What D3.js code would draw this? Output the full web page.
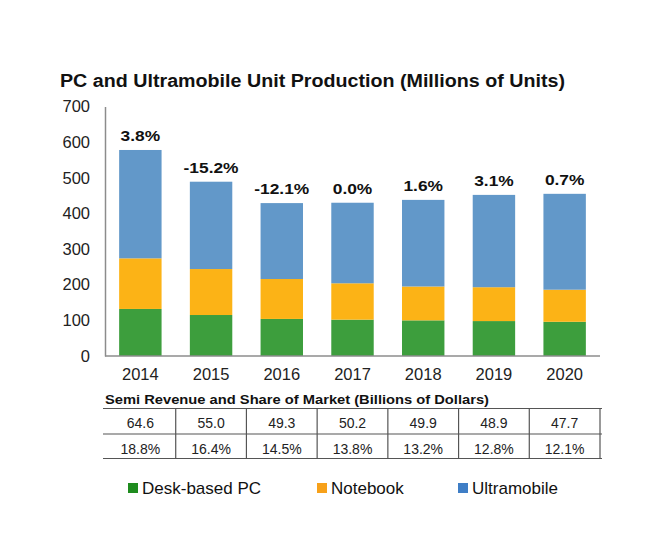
<!DOCTYPE html>
<html><head><meta charset="utf-8">
<script src="https://cdn.jsdelivr.net/npm/d3@7"></script>
<style>body{margin:0;background:#fff;} svg{display:block;font-family:"Liberation Sans",Arial,sans-serif;}</style>
</head><body>
<svg id="c" width="660" height="550"></svg>
<script>
const years = ["2014","2015","2016","2017","2018","2019","2020"];
const deskPC = [132,115,104,102,100,98,96];
const notebook = [142,129,112,102,95,95,90];
const ultramobile = [304,245,213,226,243,259,269];
const growth = ["3.8%","-15.2%","-12.1%","0.0%","1.6%","3.1%","0.7%"];
const revenue = ["64.6","55.0","49.3","50.2","49.9","48.9","47.7"];
const share = ["18.8%","16.4%","14.5%","13.8%","13.2%","12.8%","12.1%"];
const seriesNames = ["Desk-based PC","Notebook","Ultramobile"];
const yTicks = [0,100,200,300,400,500,600,700];
const colors = ["#3d9e3d","#fcb316","#6298c9"];
const legendColors = ["#1f8c1f","#f7a11a","#3f7ec6"];

const svg = d3.select("#c");
const x = d3.scaleBand().domain(years).range([105,600]).paddingInner(0.4).paddingOuter(0.2);
const y = d3.scaleLinear().domain([0,700]).range([356,106.5]);

const rows = years.map((yr,i)=>({year:yr, "Desk-based PC":deskPC[i], "Notebook":notebook[i], "Ultramobile":ultramobile[i]}));
const stack = d3.stack().keys(seriesNames)(rows);

svg.append("text").attr("x",60).attr("y",87).attr("font-size",17.5).attr("font-weight","bold").attr("fill","#111")
  .attr("textLength",505).attr("lengthAdjust","spacingAndGlyphs")
  .text("PC and Ultramobile Unit Production (Millions of Units)");

stack.forEach((s,si)=>{
  svg.append("g").selectAll("rect").data(s).join("rect")
    .attr("x",d=>x(d.data.year)).attr("width",x.bandwidth())
    .attr("y",d=>y(d[1])).attr("height",d=>y(d[0])-y(d[1]))
    .attr("fill",colors[si]);
});

// axes
const yAxis = svg.append("g").attr("transform","translate(105,0)")
  .call(d3.axisLeft(y).tickValues(yTicks).tickSize(0).tickPadding(15));
yAxis.select(".domain").attr("stroke","#8c8c8c").attr("stroke-width",1.5);
yAxis.selectAll("text").attr("font-size",16.5).attr("fill","#222").attr("font-family","Liberation Sans, Arial, sans-serif");

const xAxis = svg.append("g").attr("transform","translate(0,356)")
  .call(d3.axisBottom(x).tickSize(0).tickPadding(12));
xAxis.select(".domain").attr("stroke","#8c8c8c").attr("stroke-width",1.5).attr("d","M105,0H600");
xAxis.selectAll("text").attr("font-size",16.5).attr("fill","#222").attr("font-family","Liberation Sans, Arial, sans-serif");

// growth labels
svg.append("g").selectAll("text").data(years).join("text")
  .attr("transform",(d,i)=>`translate(${x(d)+x.bandwidth()/2},${y(deskPC[i]+notebook[i]+ultramobile[i])-9}) scale(1.12,1)`)
  .attr("text-anchor","middle").attr("font-size",15.5).attr("font-weight","bold").attr("fill","#111")
  .text((d,i)=>growth[i]);

// table
svg.append("text").attr("x",105).attr("y",404).attr("font-size",13).attr("font-weight","bold").attr("fill","#111")
  .attr("textLength",384).attr("lengthAdjust","spacingAndGlyphs")
  .text("Semi Revenue and Share of Market (Billions of Dollars)");
const step = x.step();
const left = x.range()[0], right = x.range()[1];
const tg = svg.append("g").attr("stroke","#555").attr("stroke-width",1.2);
[408.5,434,458.5].forEach(yy=>tg.append("line").attr("x1",left-2).attr("x2",right+2).attr("y1",yy).attr("y2",yy));
years.forEach((yr,i)=>{
  const bx = left + (i+1)*step;
  tg.append("line").attr("x1",bx).attr("x2",bx).attr("y1",408.5).attr("y2",458.5);
});
svg.append("g").selectAll("text").data(years).join("text")
  .attr("x",d=>x(d)+x.bandwidth()/2).attr("y",427.5).attr("text-anchor","middle")
  .attr("font-size",14).attr("fill","#222").text((d,i)=>revenue[i]);
svg.append("g").selectAll("text").data(years).join("text")
  .attr("x",d=>x(d)+x.bandwidth()/2).attr("y",453.5).attr("text-anchor","middle")
  .attr("font-size",14).attr("fill","#222").text((d,i)=>share[i]);

// legend
const legX = [128,317,458];
const lg = svg.append("g");
seriesNames.forEach((n,i)=>{
  lg.append("rect").attr("x",legX[i]).attr("y",483).attr("width",10).attr("height",10).attr("fill",legendColors[i]);
  lg.append("text").attr("x",legX[i]+14).attr("y",493.5).attr("font-size",17).attr("fill","#111").text(n);
});
</script>
</body></html>
